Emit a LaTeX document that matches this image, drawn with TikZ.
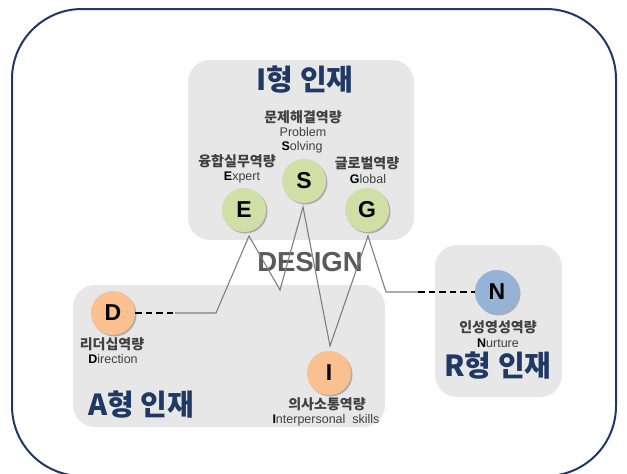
\documentclass[tikz,border=0pt]{standalone}
\usepackage{fontspec}
\setmainfont{Noto Sans CJK KR}
\newfontfamily\arialfont{Liberation Sans}
\usetikzlibrary{shadows}
\definecolor{navyblue}{HTML}{1F3864}
\definecolor{boxgray}{HTML}{E7E7E7}
\definecolor{linegray}{HTML}{7F7F7F}
\definecolor{textgray}{HTML}{404040}
\definecolor{designgray}{HTML}{5A5A5A}
\definecolor{ballgreen}{HTML}{CFDFA5}
\definecolor{ballorange}{HTML}{FAC090}
\definecolor{ballblue}{HTML}{95B3D7}
\tikzset{
  ball/.style={circle,minimum size=44pt,inner sep=0pt,
    font=\arialfont\bfseries\fontsize{23}{23}\selectfont,
    drop shadow={shadow xshift=1.5pt,shadow yshift=-1.5pt,opacity=0.25,fill=black}},
  krlabel/.style={inner sep=0pt,text=textgray,font=\bfseries\fontsize{14}{14}\selectfont},
  enlabel/.style={inner sep=0pt,text=textgray,font=\arialfont\fontsize{12.5}{12.5}\selectfont},
  typetitle/.style={inner sep=0pt,text=navyblue,font=\bfseries\fontsize{29}{29}\selectfont},
  wire/.style={draw=linegray,line width=1.1pt,line join=miter},
  dashwire/.style={draw=black,line width=2.6pt,dash pattern=on 6.5pt off 4pt}
}
\newcommand{\firstbold}[2]{{\bfseries\color{black}#1}#2}

\begin{document}
\begin{tikzpicture}[x=1pt,y=-1pt]
  \useasboundingbox (0,0) rectangle (627,474);
  % frame and boxes
  \draw[navyblue,line width=2pt,rounded corners=70pt] (12,9) rectangle (616,476);
  \fill[boxgray,rounded corners=22pt] (188,60) rectangle (414,240);
  \fill[boxgray,rounded corners=22pt] (73,285) rectangle (385,427);
  \fill[boxgray,rounded corners=22pt] (435,245) rectangle (562,397);

  % titles
  \node[typetitle] (Ititle) at (305,80) {I형 인재};
  \node[typetitle] (Atitle) at (141,405) {A형 인재};
  \node[typetitle] (Rtitle) at (498,366) {R형 인재};
  \node[font=\arialfont\bfseries\fontsize{27.5}{27.5}\selectfont,text=designgray,inner sep=0pt] (design) at (310,262) {DESIGN};

  % zigzag
  \coordinate (dend) at (175,313);
  \coordinate (dcorner) at (216,313);
  \coordinate (eapex) at (249,236);
  \coordinate (valley) at (280,290);
  \coordinate (sapex) at (303,207);
  \coordinate (itop) at (330,346);
  \coordinate (gapex) at (368,236);
  \coordinate (ncorner) at (386,292);
  \coordinate (nend) at (418,292);
  \draw[wire] (dend) -- (dcorner) -- (eapex) -- (valley) -- (sapex) -- (itop) -- (gapex) -- (ncorner) -- (nend);

  % competences
  \node[ball,fill=ballgreen] (S) at (304,181) {S};
  \node[ball,fill=ballgreen] (E) at (244,210) {E};
  \node[ball,fill=ballgreen] (G) at (367,210) {G};
  \node[ball,fill=ballorange] (D) at (113,313) {D};
  \node[ball,fill=ballorange] (I) at (329,373) {I};
  \node[ball,fill=ballblue] (N) at (497,292) {N};
  \draw[dashwire] (D.east) -- (dend);
  \draw[dashwire] (nend) -- (N.west);

  \node[krlabel] (Skr) at (303,117) {문제해결역량};
  \node[enlabel] (Sen1) at (303,132) {Problem};
  \node[enlabel] (Sen2) at (302,147) {\firstbold{S}{olving}};
  \node[krlabel] (Ekr) at (237,161) {융합실무역량};
  \node[enlabel] (Een) at (242,177) {\firstbold{E}{xpert}};
  \node[krlabel] (Gkr) at (367,163) {글로벌역량};
  \node[enlabel] (Gen) at (368,179) {\firstbold{G}{lobal}};
  \node[krlabel] (Dkr) at (112,344) {리더십역량};
  \node[enlabel] (Den) at (113,359) {\firstbold{D}{irection}};
  \node[krlabel] (Ikr) at (327,404) {의사소통역량};
  \node[enlabel] (Ien) at (326,420) {\firstbold{I}{nterpersonal\ \ skills}};
  \node[krlabel] (Nkr) at (498,327) {인성영성역량};
  \node[enlabel] (Nen) at (498,343) {\firstbold{N}{urture}};
\end{tikzpicture}
\end{document}
